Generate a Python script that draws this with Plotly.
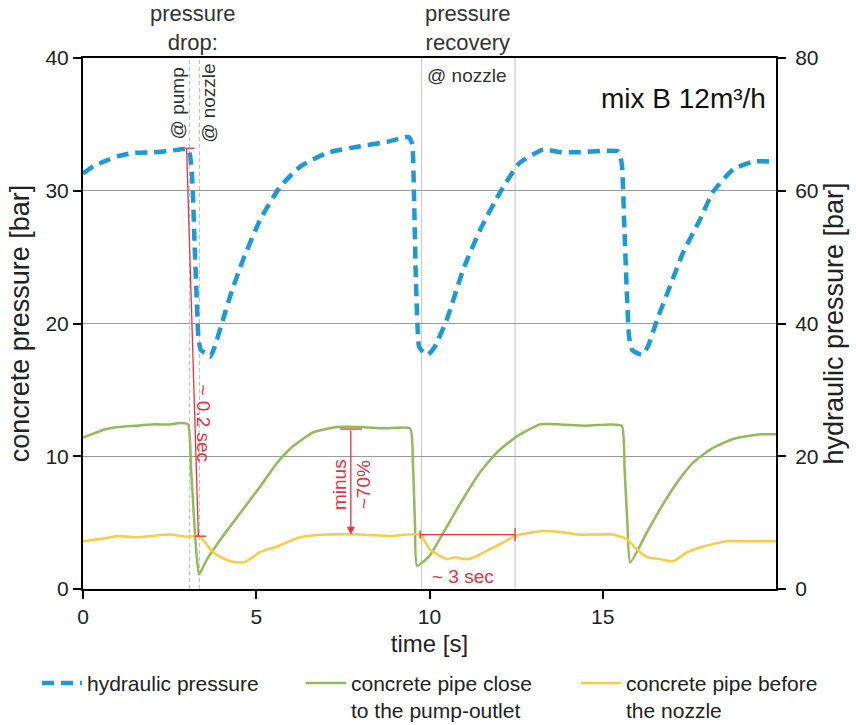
import plotly.graph_objects as go

# ---- data ----
t_hyd = [0, 0.3, 0.6, 1.0, 1.44, 2.0, 2.5, 2.9, 3.05, 3.15, 3.22, 3.28, 3.33, 3.4, 3.55, 3.67, 3.8,
         4.04, 4.3, 4.62, 5.11, 5.69, 6.26, 7.04, 8.0, 8.8, 9.4, 9.5, 9.55, 9.6, 9.65, 9.7, 9.85, 9.96,
         10.15, 10.5, 10.97, 11.46, 12.03, 12.6, 13.28, 13.8, 14.34, 15.0, 15.45, 15.55, 15.62, 15.7,
         15.76, 15.85, 16.13, 16.3, 16.57, 16.94, 17.32, 17.8, 18.18, 18.76, 19.34, 19.83]
hydraulic = [62.6, 63.7, 64.4, 65.2, 65.7, 65.8, 66.0, 66.3, 66.2, 62.0, 52.0, 44.0, 38.0, 36.0, 35.5, 35.0, 36.5,
             40.6, 45.0, 49.6, 55.6, 60.6, 63.6, 65.7, 66.7, 67.4, 68.1, 67.0, 60.0, 48.0, 40.0, 36.5, 35.5, 35.3,
             36.5, 40.6, 48.1, 54.1, 59.7, 64.2, 66.2, 65.8, 65.8, 66.0, 65.9, 64.0, 55.0, 44.0,
             38.0, 36.0, 35.3, 36.5, 40.6, 45.6, 50.7, 55.6, 59.8, 63.2, 64.4, 64.4]

t_pump = [0, 0.3, 0.6, 1.0, 1.5, 2.0, 2.5, 2.8, 3.03, 3.12, 3.2, 3.28, 3.35, 3.58, 4.04, 4.62, 5.11, 5.6,
          6.06, 6.64, 7.33, 8.0, 8.7, 9.44, 9.52, 9.58, 9.64, 10.0, 10.5, 10.97, 11.46, 11.95, 12.52, 13.19,
          13.77, 14.5, 15.2, 15.55, 15.63, 15.71, 15.79, 16.28, 16.65, 17.14, 17.6, 18.1, 18.76, 19.54, 20.0]
pump_outlet = [11.4, 11.7, 12.0, 12.2, 12.3, 12.4, 12.4, 12.5, 12.4, 9.0, 5.5, 2.5, 1.1, 2.25, 4.0, 6.0, 7.7, 9.5,
               10.75, 11.8, 12.2, 12.2, 12.1, 12.1, 9.5, 5.0, 1.75, 2.5, 4.7, 6.8, 8.8, 10.3, 11.5, 12.4,
               12.4, 12.3, 12.4, 12.3, 9.0, 5.0, 2.0, 4.3, 6.0, 8.0, 9.5, 10.5, 11.3, 11.65, 11.65]

t_nozzle = [0, 0.3, 0.6, 1.0, 1.5, 2.0, 2.5, 3.0, 3.33, 3.5, 3.67, 3.9, 4.24, 4.62, 4.85, 5.11, 5.35, 5.6, 6.26,
            7.04, 8.0, 8.9, 9.73, 10.0, 10.3, 10.5, 10.75, 10.97, 11.2, 11.37, 11.75, 12.12, 12.47, 13.19,
            13.77, 14.3, 14.73, 15.3, 15.7, 15.98, 16.28, 16.65, 17.03, 17.43, 17.9, 18.58, 19.16, 20.0]
nozzle = [3.6, 3.7, 3.8, 4.0, 3.9, 4.0, 4.1, 3.95, 4.0, 3.6, 3.0, 2.5, 2.1, 2.0, 2.3, 2.8, 3.0, 3.2, 3.9,
          4.1, 4.1, 4.0, 4.1, 3.0, 2.5, 2.25, 2.4, 2.25, 2.3, 2.5, 3.0, 3.5, 4.0, 4.35,
          4.3, 4.1, 4.1, 4.1, 3.75, 3.0, 2.4, 2.25, 2.1, 2.75, 3.2, 3.6, 3.6, 3.6]

x_ticks = [0, 5, 10, 15]
y_ticks = [0, 10, 20, 30, 40]
y2_ticks = [0, 20, 40, 60, 80]

FONT = "Liberation Sans, Arial, sans-serif"
RED = "#E5323F"
TXT = "#333333"

fig = go.Figure()
fig.add_trace(go.Scatter(x=t_hyd, y=hydraulic, yaxis="y2", mode="lines", name="hydraulic pressure",
                         legend="legend",
                         line=dict(color="#1C9AD6", width=4.5, dash="12px,7px", shape="spline", smoothing=0.5)))
fig.add_trace(go.Scatter(x=t_pump, y=pump_outlet, mode="lines",
                         name="concrete pipe close<br>to the pump-outlet", legend="legend2",
                         line=dict(color="#8FBC58", width=2.5, shape="spline", smoothing=0.5)))
fig.add_trace(go.Scatter(x=t_nozzle, y=nozzle, mode="lines",
                         name="concrete pipe before<br>the nozzle", legend="legend3",
                         line=dict(color="#FACB45", width=2.5, shape="spline", smoothing=0.5)))

shapes = []
# marker lines (drop / recovery)
for xv in (3.07, 3.36):
    shapes.append(dict(type="line", xref="x", yref="paper", x0=xv, x1=xv, y0=0, y1=1,
                       line=dict(color="#BBBBBB", width=1, dash="4px,3px"), layer="below"))
for xv in (9.77, 12.47):
    shapes.append(dict(type="line", xref="x", yref="paper", x0=xv, x1=xv, y0=0, y1=1,
                       line=dict(color="#CCCCCC", width=1.2), layer="below"))
# red measurement marks
red = dict(color=RED, width=1.3)
shapes += [
    dict(type="line", x0=2.99, y0=33.2, x1=3.33, y1=3.98, line=red),
    dict(type="line", x0=2.95, y0=33.2, x1=3.22, y1=33.2, line=red),
    dict(type="line", x0=3.22, y0=3.98, x1=3.55, y1=3.98, line=red),
    dict(type="line", x0=7.42, y0=12.05, x1=8.05, y1=12.05, line=red),
    dict(type="line", x0=9.73, y0=4.1, x1=12.47, y1=4.1, line=red),
    dict(type="line", x0=9.73, y0=3.8, x1=9.73, y1=4.4, line=red),
    dict(type="line", x0=12.47, y0=3.6, x1=12.47, y1=4.6, line=red),
]

ann = []
def A(**k):
    base = dict(showarrow=False, font=dict(family=FONT, size=19, color=TXT))
    base.update(k)
    ann.append(base)

A(text="pressure<br>drop:", xref="x", yref="paper", x=3.17, y=1.0, yanchor="bottom", yshift=1,
  font=dict(family=FONT, size=22, color=TXT))
A(text="pressure<br>recovery", xref="x", yref="paper", x=11.1, y=1.0, yanchor="bottom", yshift=1,
  font=dict(family=FONT, size=22, color=TXT))
A(text="@ pump", x=2.72, y=36.6, textangle=-90)
A(text="@ nozzle", x=3.6, y=36.6, textangle=-90)
A(text="@ nozzle", x=11.08, y=38.7)
A(text="mix B 12m³/h", xref="paper", yref="paper", x=0.988, y=0.957, xanchor="right",
  font=dict(family=FONT, size=28, color="#111111"))
A(text="~ 0.2 sec", x=3.48, y=12.5, textangle=90, font=dict(family=FONT, size=19, color=RED))
A(text="minus<br>~70%", x=7.76, y=7.9, textangle=-90, font=dict(family=FONT, size=19, color=RED))
A(text="~ 3 sec", x=10.97, y=0.95, font=dict(family=FONT, size=19, color=RED))
ann.append(dict(x=7.73, y=4.1, ax=7.73, ay=12.05, xref="x", yref="y", axref="x", ayref="y",
                showarrow=True, arrowhead=2, arrowsize=1.2, arrowwidth=1.3, arrowcolor=RED, text=""))

def leg(xpx):
    return dict(orientation="v", xref="paper", yref="paper", x=(xpx - 83) / 693, y=-0.139,
                xanchor="left", yanchor="top", valign="top", itemwidth=40,
                font=dict(family=FONT, size=21, color="#222222"), bgcolor="rgba(0,0,0,0)")

fig.update_layout(
    width=856, height=725,
    margin=dict(l=83, r=80, t=58, b=136, autoexpand=False),
    paper_bgcolor="white", plot_bgcolor="white",
    font=dict(family=FONT, size=21, color="#222222"),
    showlegend=True,
    legend=leg(37), legend2=leg(301), legend3=leg(576),
    xaxis=dict(range=[0, 20], tickvals=x_ticks, showgrid=False, zeroline=False, showline=True,
               linecolor="black", linewidth=2, mirror=True, ticks="outside", ticklen=8, tickwidth=1.5,
               tickcolor="black", title=dict(text="time [s]", font=dict(size=24), standoff=8)),
    yaxis=dict(range=[0, 40], tickvals=y_ticks, showgrid=True, gridcolor="#999999", gridwidth=1,
               zeroline=False, showline=True, linecolor="black", linewidth=2, ticks="outside",
               ticklen=8, tickwidth=1.5, tickcolor="black",
               title=dict(text="concrete pressure [bar]", font=dict(size=27), standoff=8)),
    yaxis2=dict(range=[0, 80], tickvals=y2_ticks, overlaying="y", side="right", showgrid=False,
                zeroline=False, showline=True, linecolor="black", linewidth=2, ticks="outside",
                ticklen=8, tickwidth=1.5, tickcolor="black", ticklabelstandoff=5,
                title=dict(text="hydraulic pressure [bar]", font=dict(size=27), standoff=2)),
    shapes=shapes, annotations=ann,
)

fig.write_html("out.html")
